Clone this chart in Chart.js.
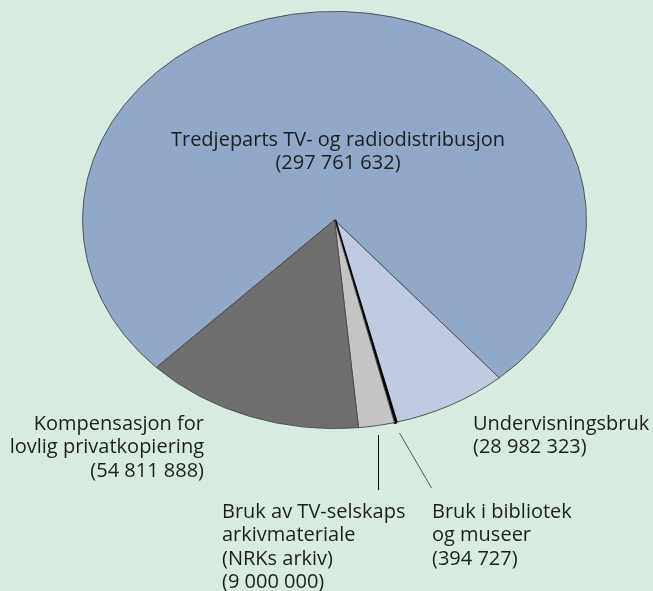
<!DOCTYPE html>
<html>
<head>
<meta charset="utf-8">
<style>
  html, body { margin: 0; padding: 0; background: #d8ebe0; }
  canvas { display: block; }
</style>
</head>
<body>
<canvas id="chart" width="653" height="591"></canvas>
<script src="https://cdn.jsdelivr.net/npm/chart.js@4/dist/chart.umd.min.js"></script>
<script>
// slice names, one entry per line of the label
const categories = [
  ["Tredjeparts TV- og radiodistribusjon"],
  ["Undervisningsbruk"],
  ["Bruk i bibliotek", "og museer"],
  ["Bruk av TV-selskaps", "arkivmateriale", "(NRKs arkiv)"],
  ["Kompensasjon for", "lovlig privatkopiering"]
];
const values = [297761632, 28982323, 394727, 9000000, 54811888];
const colors = ["#91a8c7", "#c0cbe1", "#000000", "#c4c4c4", "#6f6f6f"];

// where each label sits (x, first line y, alignment) and its leader line
const labelLayout = [
  { x: 338, y: 140, align: "center" },
  { x: 473, y: 424, align: "left" },
  { x: 432, y: 512, align: "left", line: [399, 433, 431, 488] },
  { x: 222, y: 512, align: "left", line: [378, 435, 378, 490] },
  { x: 204, y: 424, align: "right" }
];

const fmt = v => String(v).replace(/\B(?=(\d{3})+(?!\d))/g, " ");

// pie is squashed into an ellipse
const ellipse = { cy: 220, squash: 209 / 252.5 };

const ellipsePlugin = {
  id: "ellipse",
  beforeDatasetsDraw(chart) {
    const ctx = chart.ctx;
    const area = chart.chartArea;
    const cy0 = (area.top + area.bottom) / 2;
    ctx.save();
    ctx.translate(0, ellipse.cy);
    ctx.scale(1, ellipse.squash);
    ctx.translate(0, -cy0);
  },
  afterDatasetsDraw(chart) {
    chart.ctx.restore();
  }
};

const labelPlugin = {
  id: "labels",
  afterDraw(chart) {
    const ctx = chart.ctx;
    ctx.save();
    ctx.fillStyle = "#1e1e1e";
    ctx.font = "20px 'Open Sans'";
    ctx.textBaseline = "middle";
    categories.forEach((lines, i) => {
      const lay = labelLayout[i];
      const all = lines.concat(["(" + fmt(values[i]) + ")"]);
      ctx.textAlign = lay.align;
      all.forEach((t, j) => ctx.fillText(t, lay.x, lay.y + j * 23.5));
      if (lay.line) {
        ctx.strokeStyle = i === 3 ? "#000" : "#555";
        ctx.lineWidth = 1;
        ctx.beginPath();
        ctx.moveTo(lay.line[0] + 0.5, lay.line[1]);
        ctx.lineTo(lay.line[2] + 0.5, lay.line[3]);
        ctx.stroke();
      }
    });
    ctx.restore();
  }
};

new Chart(document.getElementById("chart"), {
  type: "pie",
  data: {
    labels: categories.map(c => c.join(" ")),
    datasets: [{
      data: values,
      backgroundColor: colors,
      borderColor: ["#4a4a4a", "#4a4a4a", "#000000", "#4a4a4a", "#4a4a4a"],
      borderWidth: [1, 1, 3.5, 1, 1],
      radius: 252
    }]
  },
  options: {
    responsive: false,
    animation: false,
    rotation: 225,
    layout: { padding: { left: 82, right: 66, top: 43, bottom: 43 } },
    plugins: {
      legend: { display: false },
      tooltip: { enabled: false }
    },
    events: []
  },
  plugins: [ellipsePlugin, labelPlugin]
});
</script>
</body>
</html>
